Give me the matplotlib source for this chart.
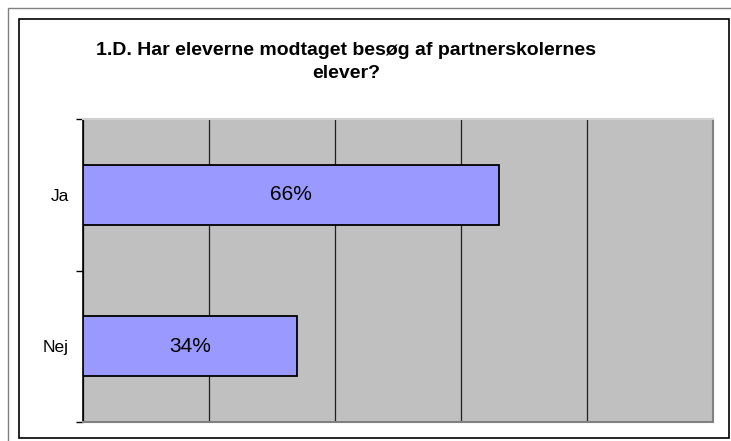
import matplotlib
matplotlib.use("Agg")
import matplotlib.pyplot as plt
from matplotlib.patches import Rectangle

categories = ["Ja", "Nej"]
values = [66, 34]
labels = ["66%", "34%"]
title = "1.D. Har eleverne modtaget besøg af partnerskolernes\nelever?"

plt.rcParams['font.family'] = ['Liberation Sans', 'DejaVu Sans']

W, H = 731, 441
fig = plt.figure(figsize=(W/100, H/100), dpi=100)
fig.patch.set_facecolor('white')

# outer gray frame and inner black frame
fig.add_artist(Rectangle((8/W, -0.01), (W-8)/W + 0.02, (H-8)/H + 0.01, transform=fig.transFigure,
                         fill=False, edgecolor='#808080', linewidth=1.0))
fig.add_artist(Rectangle((19/W, (H-438)/H), (729-19)/W, (438-19)/H, transform=fig.transFigure,
                         fill=False, edgecolor='black', linewidth=1.2))

left, right, top, bottom = 82.7, 713, 119.3, 421.7
ax = fig.add_axes([left/W, (H-bottom)/H, (right-left)/W, (bottom-top)/H])
ax.set_facecolor('#c0c0c0')

ypos = [1, 0]
ax.barh(ypos, values, height=0.4, color='#9999ff', edgecolor='black', linewidth=1.3, zorder=3)
for y, v, lab in zip(ypos, values, labels):
    ax.text(v/2, y, lab, ha='center', va='center', fontsize=15, zorder=4)

ax.set_xlim(0, 100)
ax.set_ylim(-0.5, 1.5)
ax.set_xticks([0, 20, 40, 60, 80, 100])
ax.xaxis.grid(True, color='#202020', linewidth=0.9, zorder=1)
ax.tick_params(axis='x', length=0, labelbottom=False)

ax.set_yticks(ypos)
ax.set_yticklabels(categories, fontsize=12.5)
ax.set_yticks([-0.5, 0.5, 1.5], minor=True)
ax.tick_params(axis='y', which='major', length=0, pad=10)
ax.tick_params(axis='y', which='minor', length=5, width=1, color='black')

ax.spines['left'].set_color('black')
ax.spines['left'].set_linewidth(1.2)
ax.spines['bottom'].set_color('#808080')
ax.spines['bottom'].set_linewidth(1.5)
ax.spines['top'].set_color('#d0d0d0')
ax.spines['top'].set_linewidth(1.5)
ax.spines['right'].set_color('#808080')
ax.spines['right'].set_linewidth(1.5)

fig.text(346/W, (H-62)/H, title, ha='center', va='center', fontsize=14,
         fontweight='bold', linespacing=1.4)

fig.savefig('out.png', dpi=100)
